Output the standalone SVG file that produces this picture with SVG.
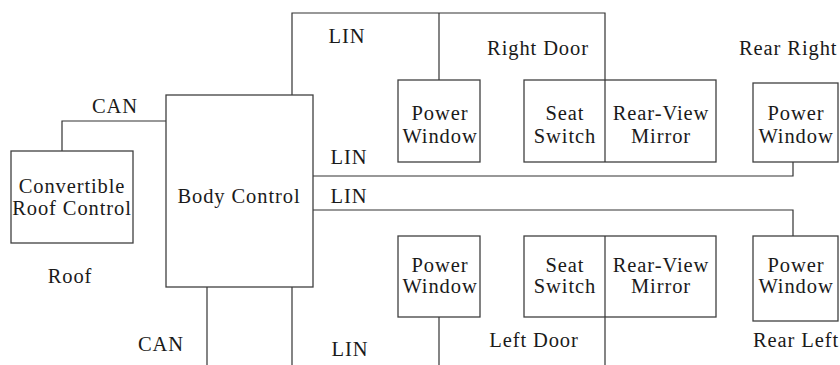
<svg xmlns="http://www.w3.org/2000/svg" width="840" height="365" viewBox="0 0 840 365">
  <style>
    .box { fill: #ffffff; stroke: #404040; stroke-width: 1.3; }
    .wire { fill: none; stroke: #333333; stroke-width: 1.2; }
    text { font-family: "Liberation Serif", "Times New Roman", serif; font-size: 20.5px; letter-spacing: 0.9px; fill: #1a1a1a; }
    .c { text-anchor: middle; }
  </style>
  <rect width="840" height="365" fill="#ffffff"/>

  <!-- bus wiring -->
  <g id="connectors">
    <polyline class="wire" points="166,121 62,121 62,151"/>
    <polyline class="wire" points="292,95 292,13 605,13 605,162"/>
    <line class="wire" x1="439" y1="13" x2="439" y2="80"/>
    <polyline class="wire" points="313,176 793,176 793,162"/>
    <polyline class="wire" points="313,210 793,210 793,236"/>
    <line class="wire" x1="207" y1="287" x2="207" y2="365"/>
    <line class="wire" x1="292" y1="287" x2="292" y2="365"/>
    <line class="wire" x1="439" y1="317" x2="439" y2="365"/>
    <line class="wire" x1="605" y1="236" x2="605" y2="365"/>
  </g>

  <!-- bus and zone labels -->
  <g id="labels">
    <text class="c" x="115" y="113">CAN</text>
    <text class="c" x="347" y="43">LIN</text>
    <text class="c" x="349" y="164">LIN</text>
    <text class="c" x="349" y="203">LIN</text>
    <text class="c" x="350" y="356">LIN</text>
    <text class="c" x="161" y="351">CAN</text>
    <text class="c" x="70" y="283">Roof</text>
    <text class="c" x="538" y="55">Right Door</text>
    <text class="c" x="534" y="347">Left Door</text>
    <text x="739" y="55">Rear Right</text>
    <text x="753" y="347">Rear Left</text>
  </g>

  <g id="roof-control">
    <rect class="box" x="11" y="151" width="122" height="92"/>
    <text class="c" x="72" y="193">Convertible</text>
    <text class="c" x="72" y="215">Roof Control</text>
  </g>

  <g id="body-control">
    <rect class="box" x="166" y="95" width="147" height="192"/>
    <text class="c" x="239" y="203">Body Control</text>
  </g>

  <g id="right-power-window">
    <rect class="box" x="398" y="80" width="82" height="82"/>
    <text class="c" x="440" y="120">Power</text>
    <text class="c" x="440" y="143">Window</text>
  </g>

  <g id="right-seat-mirror">
    <rect class="box" x="524" y="80" width="192" height="82"/>
    <line class="wire" x1="605" y1="80" x2="605" y2="162"/>
    <text class="c" x="565" y="120">Seat</text>
    <text class="c" x="565" y="143">Switch</text>
    <text class="c" x="661" y="120">Rear-View</text>
    <text class="c" x="661" y="143">Mirror</text>
  </g>

  <g id="rear-right-power-window">
    <rect class="box" x="753" y="83" width="85" height="79"/>
    <text class="c" x="796" y="120">Power</text>
    <text class="c" x="796" y="143">Window</text>
  </g>

  <g id="left-power-window">
    <rect class="box" x="398" y="236" width="82" height="81"/>
    <text class="c" x="440" y="272">Power</text>
    <text class="c" x="440" y="293">Window</text>
  </g>

  <g id="left-seat-mirror">
    <rect class="box" x="524" y="236" width="192" height="81"/>
    <line class="wire" x1="605" y1="236" x2="605" y2="317"/>
    <text class="c" x="565" y="272">Seat</text>
    <text class="c" x="565" y="293">Switch</text>
    <text class="c" x="661" y="272">Rear-View</text>
    <text class="c" x="661" y="293">Mirror</text>
  </g>

  <g id="rear-left-power-window">
    <rect class="box" x="753" y="236" width="85" height="85"/>
    <text class="c" x="796" y="272">Power</text>
    <text class="c" x="796" y="293">Window</text>
  </g>
</svg>
